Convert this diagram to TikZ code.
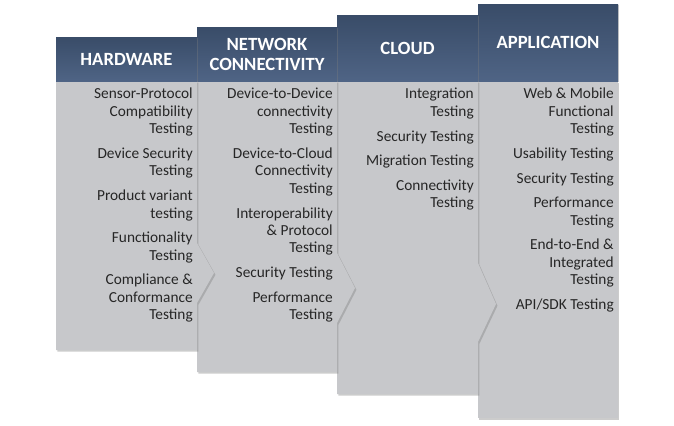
\documentclass[tikz,border=0pt]{standalone}
\usepackage{fontspec}
\setmainfont{Carlito}
\usetikzlibrary{shadows}
\definecolor{hdtop}{HTML}{394C68}
\definecolor{hdbot}{HTML}{4F6485}
\definecolor{bodygray}{HTML}{C7C8CB}
\definecolor{txtgray}{HTML}{262626}

\begin{document}
\begin{tikzpicture}[x=0.75pt, y=-0.75pt,
	colbody/.style={fill=bodygray, drop shadow={shadow xshift=1.1pt, shadow yshift=-1.3pt, opacity=.4}},
	colhead/.style={top color=hdtop, bottom color=hdbot, drop shadow={shadow xshift=1.1pt, shadow yshift=-1.1pt, opacity=.4}},
	headtxt/.style={text=white, font=\fontsize{14}{15}\selectfont\bfseries, align=center, inner sep=0pt},
	itemtxt/.style={text=txtgray, font=\fontsize{11.5}{13.1}\selectfont, align=right, anchor=north east, inner sep=0pt}]
		%%%%% START %%%%%
		\useasboundingbox (0, 0) rectangle (674, 425);
		
		% application
		\draw[colbody, draw=none] (478, 81) rectangle (618, 418);
		\draw[colhead, draw=none] (478, 4) rectangle (618, 81);
		\node[headtxt] (ap) at (548, 42.5) {APPLICATION};
		\node[itemtxt] (aplist) at (614, 88) {Web \& Mobile\\ Functional\\ Testing\\[5.4pt]
			Usability Testing\\[5.4pt] Security Testing\\[5.4pt] Performance\\ Testing\\[5.4pt]
			End-to-End \&\\ Integrated\\ Testing\\[5.4pt] API/SDK Testing};
		
		% cloud
		\draw[colbody, draw=none] (337, 81) -- (478, 81) -- (478, 263) -- (496, 304) -- (478, 342)
			-- (478, 394) -- (337, 394) -- cycle;
		\draw[colhead, draw=none] (337, 15) rectangle (478, 81);
		\node[headtxt] (cl) at (407.5, 48) {CLOUD};
		\node[itemtxt] (cllist) at (474, 88) {Integration\\ Testing\\[5.4pt] Security Testing\\[5.4pt]
			Migration Testing\\[5.4pt] Connectivity\\ Testing};
		
		% network connectivity
		\draw[colbody, draw=none] (197, 81) -- (337, 81) -- (337, 253) -- (355, 288) -- (337, 323)
			-- (337, 372) -- (197, 372) -- cycle;
		\draw[colhead, draw=none] (197, 27) rectangle (337, 81);
		\node[headtxt] (nc) at (267, 54) {NETWORK\\ CONNECTIVITY};
		\node[itemtxt] (nclist) at (333, 88) {Device-to-Device\\ connectivity\\ Testing\\[5.4pt]
			Device-to-Cloud\\ Connectivity\\ Testing\\[5.4pt] Interoperability\\ \& Protocol\\ Testing\\[5.4pt]
			Security Testing\\[5.4pt] Performance\\ Testing};
		
		% hardware
		\draw[colbody, draw=none] (56, 81) -- (197, 81) -- (197, 243) -- (214, 273) -- (197, 303)
			-- (197, 350) -- (56, 350) -- cycle;
		\draw[colhead, draw=none] (56, 37) rectangle (197, 81);
		\node[headtxt] (hw) at (126.5, 59) {HARDWARE};
		\node[itemtxt] (hwlist) at (193, 88) {Sensor-Protocol\\ Compatibility\\ Testing\\[5.4pt]
			Device Security\\ Testing\\[5.4pt] Product variant\\ testing\\[5.4pt] Functionality\\ Testing\\[5.4pt]
			Compliance \&\\ Conformance\\ Testing};
		
		%%%%% END %%%%%
	\end{tikzpicture}
\end{document}
